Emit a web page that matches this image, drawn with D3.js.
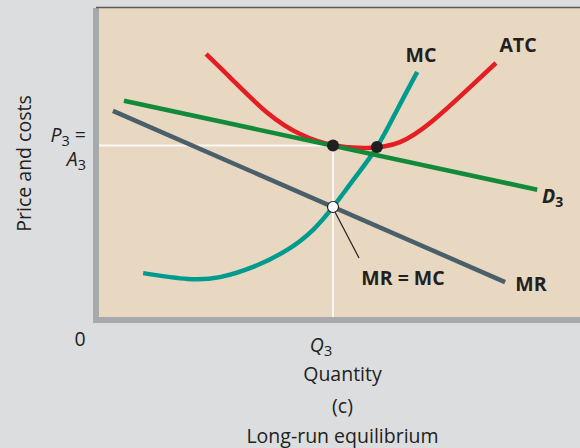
<!DOCTYPE html>
<html>
<head>
<meta charset="utf-8">
<script src="https://cdn.jsdelivr.net/npm/d3@7"></script>
<style>
  html, body { margin: 0; padding: 0; background: #dcdddf; }
  svg { display: block; }
  text { font-family: "Open Sans", sans-serif; fill: #231f20; }
</style>
</head>
<body>
<svg id="chart" width="580" height="448"></svg>
<script>
// Long-run equilibrium of a monopolistically competitive firm
const quantityDomain = [0, 100];
const priceDomain = [0, 100];

// Equilibrium output and price (P3 = A3)
const Q3 = 48.75;
const P3 = 55.5;

// Demand curve D3 (straight line)
const demandD3 = [[5.2, 70.0], [91.3, 41.2]];

// Marginal revenue curve MR (straight line)
const marginalRevenue = [[2.9, 66.7], [84.6, 11.3]];

// Marginal cost curve MC
const marginalCost = [
  [9.2, 14.2], [18.5, 12.3], [25.2, 12.9], [32.1, 16.2], [39.2, 21.7],
  [44.6, 28.2], [48.75, 35.6], [53.3, 45.0], [57.9, 55.0], [62.1, 67.0], [66.3, 79.3]
];

// Average total cost curve ATC
const averageTotalCost = [
  [22.3, 85.1], [27.9, 76.6], [35.0, 66.2], [41.9, 59.2], [48.75, 55.6],
  [55.8, 54.7], [62.7, 56.6], [69.6, 63.6], [76.7, 73.5], [82.7, 82.2]
];

// Minimum of ATC where MC crosses it
const atcMinPoint = [57.9, 55.0];
// MR = MC point
const mrMcPoint = [Q3, 35.6];

const svg = d3.select("#chart");
const plot = { left: 99, right: 580, top: 8, bottom: 317 };

const x = d3.scaleLinear().domain(quantityDomain).range([plot.left, 579]);
const y = d3.scaleLinear().domain(priceDomain).range([plot.bottom, plot.top]);

// Panel background and frame
svg.append("rect")
  .attr("x", plot.left).attr("y", plot.top)
  .attr("width", plot.right - plot.left).attr("height", plot.bottom - plot.top)
  .attr("fill", "#e8d8c1");
svg.append("rect")
  .attr("x", 93).attr("y", plot.top)
  .attr("width", 6).attr("height", plot.bottom - plot.top + 6)
  .attr("fill", "#a8a9ad");
svg.append("rect")
  .attr("x", 93).attr("y", plot.bottom)
  .attr("width", 580 - 93).attr("height", 6)
  .attr("fill", "#a8a9ad");
svg.append("line")
  .attr("x1", 96).attr("x2", 580).attr("y1", 7.5).attr("y2", 7.5)
  .attr("stroke", "#5e5954").attr("stroke-width", 1.5);

// Guide lines at Q3 and P3
svg.append("line")
  .attr("x1", plot.left).attr("x2", x(Q3))
  .attr("y1", y(P3)).attr("y2", y(P3))
  .attr("stroke", "#fbf8f3").attr("stroke-width", 2);
svg.append("line")
  .attr("x1", x(Q3)).attr("x2", x(Q3))
  .attr("y1", y(P3)).attr("y2", plot.bottom)
  .attr("stroke", "#fbf8f3").attr("stroke-width", 2);

const straight = d3.line().x(d => x(d[0])).y(d => y(d[1]));
const smooth = d3.line().x(d => x(d[0])).y(d => y(d[1])).curve(d3.curveNatural);

svg.append("path").attr("d", straight(marginalRevenue))
  .attr("fill", "none").attr("stroke", "#4b5f6b").attr("stroke-width", 4.5);
svg.append("path").attr("d", smooth(marginalCost))
  .attr("fill", "none").attr("stroke", "#009b8f").attr("stroke-width", 4.5);
svg.append("path").attr("d", smooth(averageTotalCost))
  .attr("fill", "none").attr("stroke", "#e31e24").attr("stroke-width", 4.5);
svg.append("path").attr("d", straight(demandD3))
  .attr("fill", "none").attr("stroke", "#138a3a").attr("stroke-width", 4.5);

// Leader line from MR = MC point to its label
svg.append("line")
  .attr("x1", x(mrMcPoint[0]) + 2).attr("y1", y(mrMcPoint[1]) + 5)
  .attr("x2", x(mrMcPoint[0]) + 26).attr("y2", y(mrMcPoint[1]) + 51)
  .attr("stroke", "#231f20").attr("stroke-width", 1.2);

// Points
svg.append("circle").attr("cx", x(Q3)).attr("cy", y(P3)).attr("r", 6).attr("fill", "#231f20");
svg.append("circle").attr("cx", x(atcMinPoint[0])).attr("cy", y(atcMinPoint[1])).attr("r", 6).attr("fill", "#231f20");
svg.append("circle").attr("cx", x(mrMcPoint[0])).attr("cy", y(mrMcPoint[1])).attr("r", 5.5)
  .attr("fill", "#ffffff").attr("stroke", "#231f20").attr("stroke-width", 1.2);

// Curve labels
function boldLabel(txt, cx, by) {
  return svg.append("text").attr("x", cx).attr("y", by)
    .attr("text-anchor", "middle").attr("font-weight", 700).attr("font-size", 19.5).text(txt);
}
boldLabel("MC", 421, 62);
boldLabel("ATC", 518, 52);
boldLabel("MR = MC", 403, 285);
boldLabel("MR", 531, 291);

const dLabel = svg.append("text").attr("x", 542).attr("y", 203)
  .attr("font-weight", 700).attr("font-size", 19.5);
dLabel.append("tspan").attr("font-style", "italic").text("D");
dLabel.append("tspan").attr("font-size", 14).attr("dy", 4).text("3");

// Price axis label P3 = A3
const pLabel = svg.append("text").attr("x", 86).attr("y", 142)
  .attr("text-anchor", "end").attr("font-size", 19.5);
pLabel.append("tspan").attr("font-style", "italic").text("P");
pLabel.append("tspan").attr("font-size", 14.5).attr("dy", 4).text("3");
pLabel.append("tspan").attr("dy", -4).text(" =");

const aLabel = svg.append("text").attr("x", 86).attr("y", 166)
  .attr("text-anchor", "end").attr("font-size", 19.5);
aLabel.append("tspan").attr("font-style", "italic").text("A");
aLabel.append("tspan").attr("font-size", 14.5).attr("dy", 4).text("3");

// Origin and Q3
svg.append("text").attr("x", 80).attr("y", 346).attr("text-anchor", "middle")
  .attr("font-size", 19.5).text("0");
const qLabel = svg.append("text").attr("x", x(Q3) - 12).attr("y", 352)
  .attr("text-anchor", "middle").attr("font-size", 19.5);
qLabel.append("tspan").attr("font-style", "italic").text("Q");
qLabel.append("tspan").attr("font-size", 14.5).attr("dy", 4).text("3");

// Axis titles and caption
svg.append("text").attr("x", 342.5).attr("y", 381).attr("text-anchor", "middle")
  .attr("font-size", 19.5).text("Quantity");
svg.append("text").attr("x", 342.5).attr("y", 413).attr("text-anchor", "middle")
  .attr("font-size", 19.5).text("(c)");
svg.append("text").attr("x", 342.5).attr("y", 443).attr("text-anchor", "middle")
  .attr("font-size", 19.5).text("Long-run equilibrium");
svg.append("text")
  .attr("transform", "translate(31,163.5) rotate(-90)")
  .attr("text-anchor", "middle").attr("font-size", 19.5).text("Price and costs");
</script>
</body>
</html>
